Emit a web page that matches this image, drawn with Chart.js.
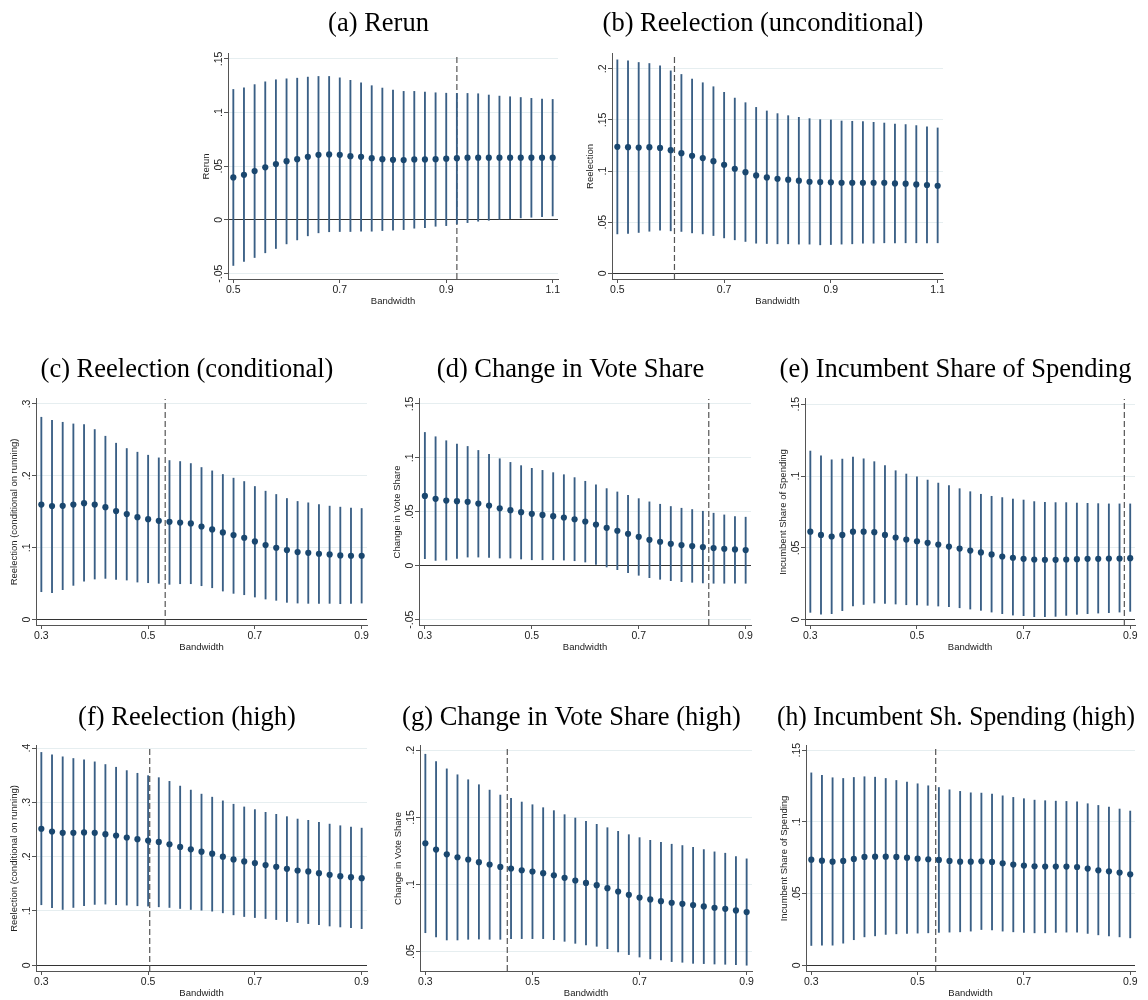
<!DOCTYPE html>
<html>
<head>
<meta charset="utf-8">
<title>Bandwidth robustness</title>
<script src="https://cdn.jsdelivr.net/npm/chart.js@4.4.1/dist/chart.umd.min.js"></script>
<style>
  body { margin: 0; background: #fff; width: 1148px; height: 1000px; position: relative; overflow: hidden; }
  canvas { position: absolute; }
</style>
</head>
<body>
<script>
// bandwidth grids
const bwWide = [0.50,0.52,0.54,0.56,0.58,0.60,0.62,0.64,0.66,0.68,0.70,0.72,0.74,0.76,0.78,0.80,0.82,0.84,0.86,0.88,0.90,0.92,0.94,0.96,0.98,1.00,1.02,1.04,1.06,1.08,1.10];
const bwNarrow = [0.30,0.32,0.34,0.36,0.38,0.40,0.42,0.44,0.46,0.48,0.50,0.52,0.54,0.56,0.58,0.60,0.62,0.64,0.66,0.68,0.70,0.72,0.74,0.76,0.78,0.80,0.82,0.84,0.86,0.88,0.90];
const xTicksWide = [0.5, 0.7, 0.9, 1.1];
const xTicksNarrow = [0.3, 0.5, 0.7, 0.9];

// (a) Rerun
const rerunEst = [0.0396,0.042,0.0455,0.049,0.052,0.0547,0.0566,0.0588,0.0606,0.061,0.0606,0.0594,0.0588,0.0575,0.0566,0.056,0.0557,0.0563,0.0563,0.0566,0.057,0.0575,0.058,0.058,0.058,0.058,0.058,0.058,0.058,0.058,0.058];
const rerunHi = [0.1215,0.123,0.126,0.1286,0.1305,0.1314,0.132,0.133,0.1336,0.1336,0.1323,0.130,0.1277,0.125,0.1228,0.121,0.1197,0.1197,0.119,0.1184,0.118,0.1178,0.1178,0.1175,0.1163,0.1153,0.1147,0.114,0.1132,0.1126,0.1122];
const rerunLo = [-0.0424,-0.0387,-0.035,-0.0306,-0.0266,-0.0223,-0.0186,-0.0148,-0.012,-0.011,-0.0108,-0.0108,-0.0105,-0.0105,-0.0099,-0.0096,-0.009,-0.0077,-0.0071,-0.0059,-0.0053,-0.0037,-0.0025,-0.0012,-0.0003,0.0006,0.0012,0.0019,0.0025,0.003,0.0037];
const rerunTicks = [-0.05, 0, 0.05, 0.1, 0.15];

// (b) Reelection (unconditional)
const reelEst = [0.1237,0.1234,0.123,0.1234,0.1227,0.1205,0.1175,0.115,0.1127,0.1097,0.1062,0.1023,0.099,0.0958,0.0938,0.0925,0.0916,0.0906,0.0896,0.0893,0.089,0.0886,0.0886,0.0886,0.0886,0.0886,0.088,0.0877,0.087,0.0864,0.0857];
const reelHi = [0.2088,0.2078,0.2062,0.2052,0.2029,0.198,0.1945,0.19,0.1864,0.1825,0.177,0.1714,0.1669,0.1623,0.1588,0.1562,0.1542,0.1526,0.1513,0.1503,0.15,0.149,0.1487,0.1484,0.1477,0.147,0.1461,0.1455,0.1445,0.1432,0.1422];
const reelLo = [0.0386,0.039,0.04,0.0412,0.0422,0.0416,0.041,0.0396,0.0386,0.037,0.0347,0.0328,0.0312,0.0295,0.0292,0.0289,0.0289,0.0286,0.0286,0.0279,0.0282,0.0286,0.0289,0.0295,0.0295,0.0299,0.0299,0.0299,0.0299,0.0299,0.0299];
const reelTicks = [0, 0.05, 0.1, 0.15, 0.2];

// (c) Reelection (conditional)
const condEst = [0.16,0.158,0.1583,0.16,0.162,0.16,0.1565,0.151,0.1468,0.1426,0.1398,0.1375,0.136,0.135,0.1338,0.1296,0.1255,0.1213,0.1176,0.1139,0.1088,0.1037,0.1,0.0968,0.094,0.093,0.0917,0.0907,0.0894,0.0889,0.0889];
const condHi = [0.2815,0.2773,0.2745,0.2722,0.2713,0.2644,0.2551,0.2454,0.238,0.2329,0.2287,0.225,0.2213,0.2199,0.2171,0.2116,0.2069,0.2019,0.1968,0.1921,0.1852,0.1787,0.1741,0.1685,0.1644,0.1625,0.1602,0.1579,0.1565,0.1551,0.1546];
const condLo = [0.0389,0.0375,0.0417,0.0477,0.0537,0.0565,0.0574,0.056,0.0551,0.0523,0.0514,0.0505,0.0491,0.05,0.05,0.0472,0.0444,0.0398,0.0366,0.0347,0.0315,0.0287,0.0269,0.0241,0.0231,0.0227,0.0227,0.0227,0.0222,0.0227,0.0231];
const condTicks = [0, 0.1, 0.2, 0.3];

// (d) Change in Vote Share
const voteEst = [0.0647,0.062,0.0604,0.0598,0.0592,0.0576,0.0558,0.0533,0.0515,0.0496,0.0481,0.0471,0.0459,0.0447,0.0431,0.041,0.0382,0.0351,0.0324,0.0296,0.0268,0.024,0.0222,0.0203,0.0191,0.0182,0.0173,0.0163,0.0157,0.0151,0.0145];
const voteHi = [0.1236,0.1196,0.1159,0.1128,0.1106,0.1069,0.1032,0.0992,0.0958,0.0928,0.0903,0.0884,0.0863,0.0844,0.0817,0.0783,0.0749,0.0715,0.0684,0.0653,0.0622,0.0592,0.057,0.0549,0.0533,0.0521,0.0505,0.0487,0.0471,0.0456,0.045];
const voteLo = [0.0065,0.0049,0.0052,0.0068,0.008,0.008,0.0077,0.0071,0.0071,0.0062,0.0055,0.0055,0.0055,0.0052,0.0046,0.0034,0.0012,-0.0012,-0.0037,-0.0065,-0.0089,-0.0111,-0.0126,-0.0139,-0.0148,-0.0154,-0.016,-0.0163,-0.0163,-0.0163,-0.0163];
const voteTicks = [-0.05, 0, 0.05, 0.1, 0.15];

// (e) Incumbent Share of Spending
const spendEst = [0.0613,0.059,0.0579,0.059,0.0613,0.0613,0.0609,0.059,0.0572,0.0558,0.0546,0.0535,0.0523,0.0509,0.0495,0.0481,0.0468,0.0454,0.044,0.0431,0.0424,0.0419,0.0417,0.0417,0.0419,0.0421,0.0424,0.0424,0.0426,0.0426,0.0428];
const spendHi = [0.1174,0.1141,0.1113,0.1118,0.1132,0.112,0.11,0.1072,0.1037,0.1014,0.0995,0.0972,0.0951,0.0933,0.0912,0.0891,0.0873,0.0859,0.085,0.084,0.0833,0.0822,0.0817,0.0815,0.0815,0.0812,0.081,0.0808,0.0806,0.0806,0.0806];
const spendLo = [0.0051,0.0039,0.0042,0.0063,0.0095,0.0106,0.0116,0.0113,0.0109,0.0104,0.0102,0.01,0.0095,0.009,0.0083,0.0074,0.0065,0.0053,0.0042,0.0032,0.0028,0.0021,0.0021,0.0023,0.003,0.0037,0.0042,0.0046,0.0049,0.0053,0.0058];
const spendTicks = [0, 0.05, 0.1, 0.15];

// (f) Reelection (high)
const reelHighEst = [0.2514,0.2464,0.244,0.244,0.2446,0.244,0.2415,0.239,0.2353,0.2322,0.2297,0.2272,0.2229,0.218,0.2136,0.2093,0.2056,0.2,0.195,0.1913,0.1882,0.1845,0.1814,0.1777,0.1746,0.1728,0.1697,0.1666,0.1641,0.1622,0.1604];
const reelHighHi = [0.392,0.3876,0.3839,0.3808,0.3783,0.3746,0.3697,0.3647,0.3585,0.3536,0.3492,0.3455,0.3387,0.33,0.3226,0.3152,0.3096,0.3028,0.2966,0.2916,0.2867,0.2817,0.278,0.2737,0.2693,0.2669,0.2632,0.26,0.257,0.2545,0.2526];
const reelHighLo = [0.1115,0.1059,0.1028,0.1065,0.1096,0.1121,0.1127,0.1115,0.1108,0.1096,0.109,0.1077,0.1065,0.1046,0.1028,0.1015,0.0997,0.0966,0.0929,0.0898,0.0879,0.0861,0.0842,0.0805,0.0786,0.0768,0.0749,0.0724,0.0706,0.0693,0.0675];
const reelHighTicks = [0, 0.1, 0.2, 0.3, 0.4];

// (g) Change in Vote Share (high)
const voteHighEst = [0.1307,0.126,0.1225,0.1203,0.1186,0.1166,0.1149,0.1131,0.1119,0.1106,0.1097,0.1084,0.1069,0.105,0.103,0.1012,0.0995,0.0973,0.0948,0.0923,0.0903,0.0889,0.0876,0.0864,0.0856,0.0847,0.0837,0.0827,0.0819,0.0807,0.0795];
const voteHighHi = [0.197,0.1916,0.1861,0.1817,0.178,0.1743,0.1703,0.1666,0.1641,0.1614,0.1594,0.1572,0.155,0.152,0.1495,0.147,0.1448,0.1423,0.1396,0.1371,0.1349,0.1329,0.1314,0.13,0.129,0.1277,0.126,0.1243,0.1233,0.1208,0.1191];
const voteHighLo = [0.0641,0.0609,0.0587,0.0587,0.0592,0.0594,0.0592,0.0592,0.0597,0.0597,0.0597,0.0597,0.0589,0.0577,0.0562,0.055,0.054,0.0522,0.0498,0.0478,0.046,0.0446,0.0438,0.0426,0.0421,0.0413,0.0411,0.0408,0.0406,0.0403,0.0399];
const voteHighTicks = [0.05, 0.1, 0.15, 0.2];

// (h) Incumbent Sh. Spending (high)
const spendHighEst = [0.0737,0.073,0.0723,0.0728,0.0742,0.0756,0.0758,0.0758,0.0756,0.0751,0.0744,0.074,0.0735,0.0728,0.0723,0.0723,0.0726,0.0721,0.0712,0.0703,0.0696,0.0691,0.0689,0.0689,0.0689,0.0686,0.0675,0.0663,0.0656,0.0647,0.0635];
const spendHighHi = [0.1342,0.1324,0.1308,0.1303,0.131,0.1315,0.1312,0.1303,0.1289,0.1278,0.1266,0.1252,0.124,0.1224,0.1213,0.1203,0.1201,0.1194,0.1182,0.1171,0.1162,0.1152,0.1148,0.1145,0.1143,0.1141,0.1127,0.1115,0.1104,0.109,0.1076];
const spendHighLo = [0.0139,0.0141,0.0141,0.0155,0.0179,0.0199,0.0206,0.0216,0.022,0.0223,0.0225,0.0227,0.023,0.0232,0.0234,0.0239,0.025,0.0248,0.0239,0.0234,0.023,0.0227,0.0227,0.023,0.0232,0.0232,0.0223,0.0213,0.0206,0.0199,0.0192];
const spendHighTicks = [0, 0.05, 0.1, 0.15];

// optimal bandwidths (dashed lines)
const optimalBw = [0.92, 0.607, 0.532, 0.831, 0.889, 0.503, 0.453, 0.534];

const NAVY = '#1a476f';
const CI_COLOR = '#3a5f85';
const AXIS = '#555';
const FONT = 'Liberation Sans, Arial, sans-serif';
const tickFont = { family: FONT, size: 10.5 };
const labelFont = { family: FONT, size: 9.5 };
const TITLE_SIZE = 26.5;

// strip leading zero like Stata: .05, -.05
const fmtY = v => v === 0 ? '0' : String(+v.toFixed(3)).replace(/^(-?)0\./, '$1.');

const Y_W = 29, X_H = 28, SIDE = 12;

// y tick labels turned 90 degrees and centred on their ticks, Stata style
const rotatedYTicks = {
  id: 'rotatedYTicks',
  afterDraw(chart) {
    const s = chart.scales.y;
    const ctx = chart.ctx;
    ctx.save();
    ctx.fillStyle = '#222';
    ctx.font = tickFont.size + 'px ' + FONT;
    ctx.textAlign = 'center';
    ctx.textBaseline = 'middle';
    s.ticks.forEach(t => {
      ctx.save();
      ctx.translate(s.right - 9, s.getPixelForValue(t.value));
      ctx.rotate(-Math.PI / 2);
      ctx.fillText(fmtY(t.value), 0, 0);
      ctx.restore();
    });
    ctx.restore();
  }
};

function makePanel(p) {
  const titlePad = p.titleGap - TITLE_SIZE * 0.6;
  const canvas = document.createElement('canvas');
  const top = p.area.top - (TITLE_SIZE * 1.2 + titlePad);
  const left = p.area.left - Y_W - SIDE;
  const w = p.area.right - p.area.left + Y_W + 2 * SIDE;
  const h = p.area.bottom - top + X_H;
  canvas.width = w; canvas.height = h;
  canvas.style.left = left + 'px';
  canvas.style.top = top + 'px';
  document.body.appendChild(canvas);

  new Chart(canvas.getContext('2d'), {
    type: 'scatter',
    data: {
      datasets: [
        {
          type: 'scatter',
          data: p.x.map((x, i) => ({ x, y: p.est[i] })),
          backgroundColor: NAVY,
          borderWidth: 0,
          pointRadius: 3.1,
          order: 0
        },
        {
          type: 'bar',
          data: p.x.map((x, i) => ({ x, y: [p.lo[i], p.hi[i]] })),
          backgroundColor: CI_COLOR,
          borderWidth: 0,
          barThickness: 1.2,
          grouped: false,
          order: 1
        },
        {
          type: 'line',
          data: [{ x: p.cut, y: p.yMin }, { x: p.cut, y: p.yMax }],
          borderColor: AXIS,
          borderWidth: 1.2,
          borderDash: [6, 3],
          pointRadius: 0,
          order: 2
        }
      ]
    },
    plugins: [rotatedYTicks],
    options: {
      responsive: false,
      animation: false,
      events: [],
      layout: { padding: { left: SIDE, right: SIDE, top: 0, bottom: 0 } },
      plugins: {
        legend: { display: false },
        tooltip: { enabled: false },
        title: {
          display: true,
          text: p.title,
          color: '#000',
          font: { family: 'Liberation Serif, Times New Roman, serif', size: TITLE_SIZE, weight: 'normal', lineHeight: 1.2 },
          padding: { top: 0, bottom: titlePad }
        }
      },
      scales: {
        x: {
          type: 'linear',
          min: p.xMin, max: p.xMax,
          offset: false,
          afterBuildTicks: s => { s.ticks = p.xTicks.map(v => ({ value: v })); },
          afterFit: s => { s.height = X_H; s.paddingLeft = 0; s.paddingRight = 0; },
          ticks: { font: tickFont, color: '#222', padding: 1, maxRotation: 0, callback: v => v.toFixed(1) },
          grid: { drawOnChartArea: false, offset: false, tickLength: 4, color: AXIS },
          border: { color: AXIS, width: 1 },
          title: { display: true, text: 'Bandwidth', color: '#222', font: labelFont, padding: { top: 0, bottom: 0 } }
        },
        y: {
          min: p.yMin, max: p.yMax,
          afterBuildTicks: s => { s.ticks = p.yTicks.map(v => ({ value: v })); },
          afterFit: s => { s.width = Y_W; s.paddingTop = 0; s.paddingBottom = 0; },
          ticks: { display: false },
          grid: {
            color: c => (c.tick && c.tick.value === 0) ? '#333' : '#e6eef0',
            lineWidth: 1,
            tickLength: 4,
            tickColor: AXIS
          },
          border: { color: AXIS, width: 1 },
          title: { display: true, text: p.yLabel, color: '#222', font: labelFont, padding: { top: 2, bottom: 0 } }
        }
      }
    }
  });
}

const rows = {
  r1: { top: 54, bottom: 280, gap: 30 },
  r2: { top: 399, bottom: 626, gap: 29 },
  r3: { top: 746, bottom: 972, gap: 28 }
};
const area = (left, right, r) => ({ left, right, top: r.top, bottom: r.bottom });

makePanel({ title: '(a) Rerun', yLabel: 'Rerun', x: bwWide, est: rerunEst, lo: rerunLo, hi: rerunHi,
  xTicks: xTicksWide, xMin: 0.49, xMax: 1.11, yTicks: rerunTicks, yMin: -0.055, yMax: 0.1546, cut: optimalBw[0],
  area: area(228, 558, rows.r1), titleGap: rows.r1.gap });
makePanel({ title: '(b) Reelection (unconditional)', yLabel: 'Reelection', x: bwWide, est: reelEst, lo: reelLo, hi: reelHi,
  xTicks: xTicksWide, xMin: 0.49, xMax: 1.11, yTicks: reelTicks, yMin: -0.0055, yMax: 0.2146, cut: optimalBw[1],
  area: area(612, 943, rows.r1), titleGap: rows.r1.gap });
makePanel({ title: '(c) Reelection (conditional)', yLabel: 'Reelection (conditional on running)', x: bwNarrow, est: condEst, lo: condLo, hi: condHi,
  xTicks: xTicksNarrow, xMin: 0.29, xMax: 0.91, yTicks: condTicks, yMin: -0.0074, yMax: 0.307, cut: optimalBw[2],
  area: area(36, 367, rows.r2), titleGap: rows.r2.gap });
makePanel({ title: '(d) Change in Vote Share', yLabel: 'Change in Vote Share', x: bwNarrow, est: voteEst, lo: voteLo, hi: voteHi,
  xTicks: xTicksNarrow, xMin: 0.289, xMax: 0.91, yTicks: voteTicks, yMin: -0.055, yMax: 0.1547, cut: optimalBw[3],
  area: area(419, 751, rows.r2), titleGap: rows.r2.gap });
makePanel({ title: '(e) Incumbent Share of Spending', yLabel: 'Incumbent Share of Spending', x: bwNarrow, est: spendEst, lo: spendLo, hi: spendHi,
  xTicks: xTicksNarrow, xMin: 0.29, xMax: 0.909, yTicks: spendTicks, yMin: -0.0037, yMax: 0.1537, cut: optimalBw[4],
  area: area(805, 1135, rows.r2), titleGap: rows.r2.gap });
makePanel({ title: '(f) Reelection (high)', yLabel: 'Reelection (conditional on running)', x: bwNarrow, est: reelHighEst, lo: reelHighLo, hi: reelHighHi,
  xTicks: xTicksNarrow, xMin: 0.29, xMax: 0.91, yTicks: reelHighTicks, yMin: -0.0105, yMax: 0.404, cut: optimalBw[5],
  area: area(36, 367, rows.r3), titleGap: rows.r3.gap });
makePanel({ title: '(g) Change in Vote Share (high)', yLabel: 'Change in Vote Share', x: bwNarrow, est: voteHighEst, lo: voteHighLo, hi: voteHighHi,
  xTicks: xTicksNarrow, xMin: 0.29, xMax: 0.91, yTicks: voteHighTicks, yMin: 0.0356, yMax: 0.2032, cut: optimalBw[6],
  area: area(420, 752, rows.r3), titleGap: rows.r3.gap });
makePanel({ title: '(h) Incumbent Sh. Spending (high)', yLabel: 'Incumbent Share of Spending', x: bwNarrow, est: spendHighEst, lo: spendHighLo, hi: spendHighHi,
  xTicks: xTicksNarrow, xMin: 0.29, xMax: 0.909, yTicks: spendHighTicks, yMin: -0.0039, yMax: 0.153, cut: optimalBw[7],
  area: area(806, 1135, rows.r3), titleGap: rows.r3.gap });
</script>
</body>
</html>
